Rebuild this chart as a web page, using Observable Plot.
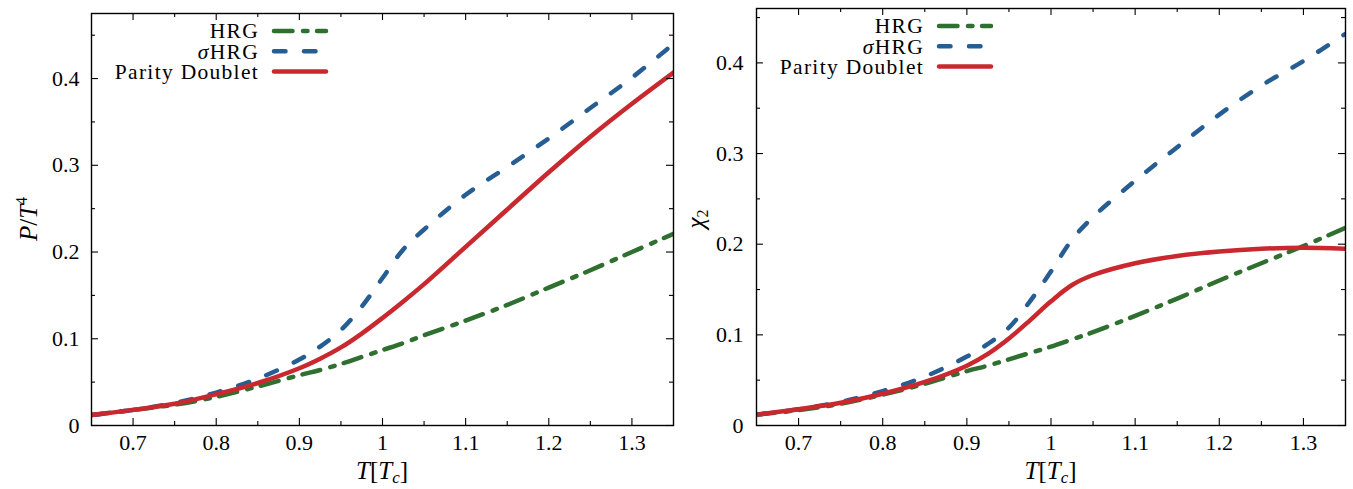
<!DOCTYPE html>
<html>
<head>
<meta charset="utf-8">
<script src="https://cdn.jsdelivr.net/npm/d3@7"></script>
<script src="https://cdn.jsdelivr.net/npm/@observablehq/plot@0.6"></script>
<style>
  html, body { margin: 0; padding: 0; background: #fff; }
  #wrap { display: flex; width: 1353px; height: 489px; overflow: hidden; }
  #wrap svg { display: block; }
</style>
</head>
<body>
<div id="wrap"></div>
<script>
// ---- data ----
const T = [0.65, 0.7, 0.75, 0.8, 0.85, 0.9, 0.925, 0.95, 0.975, 1.0, 1.025, 1.05, 1.1, 1.15, 1.2, 1.25, 1.3, 1.35];

// Left panel: P/T^4
const pressureHRG      = [0.012, 0.018, 0.024, 0.033, 0.045, 0.058, 0.064, 0.071, 0.079, 0.087, 0.095, 0.104, 0.121, 0.139, 0.159, 0.179, 0.200, 0.221];
const pressureSigmaHRG = [0.012, 0.018, 0.026, 0.038, 0.054, 0.076, 0.091, 0.110, 0.137, 0.170, 0.203, 0.226, 0.266, 0.298, 0.331, 0.366, 0.401, 0.440];
const pressureParity   = [0.012, 0.018, 0.025, 0.036, 0.049, 0.066, 0.077, 0.090, 0.106, 0.124, 0.143, 0.163, 0.206, 0.249, 0.292, 0.333, 0.371, 0.407];

// Right panel: chi_2
const chiHRG      = [0.012, 0.017, 0.024, 0.034, 0.046, 0.060, 0.066, 0.073, 0.080, 0.087, 0.095, 0.103, 0.121, 0.140, 0.160, 0.179, 0.198, 0.218];
const chiSigmaHRG = [0.012, 0.018, 0.026, 0.038, 0.054, 0.076, 0.090, 0.108, 0.137, 0.170, 0.205, 0.230, 0.270, 0.307, 0.343, 0.375, 0.402, 0.432];
const chiParity   = [0.012, 0.018, 0.025, 0.035, 0.048, 0.066, 0.079, 0.096, 0.116, 0.137, 0.155, 0.166, 0.179, 0.187, 0.192, 0.195, 0.196, 0.195];

const seriesNames = ["HRG", "σHRG", "Parity Doublet"];
const xMajor = [0.7, 0.8, 0.9, 1.0, 1.1, 1.2, 1.3];
const xMinor = [0.75, 0.85, 0.95, 1.05, 1.15, 1.25];
const yMajor = [0, 0.1, 0.2, 0.3, 0.4];
const yMinor = [0.05, 0.15, 0.25, 0.35, 0.45];

// ---- styles ----
const styles = [
  {stroke: "#2f6f2f", strokeDasharray: "18.5,10.5,4.5,9.5"},
  {stroke: "#265d92", strokeDasharray: "11.5,18.5"},
  {stroke: "#c9282e", strokeDasharray: null}
];
const LW = 4.5;
const FONT = "Liberation Serif, DejaVu Serif, serif";
const fmt = d => String(+d.toFixed(2));

function panel({values, yDomain, width, marginLeft, marginRight, marginTop, yLabel, yLabelX, yTickPadding}) {
  const height = 489, marginBottom = 64;
  const innerW = width - marginLeft - marginRight;
  const innerH = height - marginTop - marginBottom;
  const major = 7, minor = 4;
  const data = values.map((vals, s) => T.map((t, i) => ({T: t, v: vals[i], s})));

  const plot = Plot.plot({
    width, height, marginLeft, marginRight, marginTop, marginBottom,
    x: {domain: [0.65, 1.35], axis: null},
    y: {domain: yDomain, axis: null},
    style: {fontFamily: FONT, fontSize: "22px", color: "black", background: "white"},
    marks: [
      ...data.map((d, s) => Plot.line(d, {
        x: "T", y: "v", curve: "catmull-rom", clip: true,
        stroke: styles[s].stroke, strokeWidth: LW, strokeLinecap: "round", strokeLinejoin: "round",
        strokeDasharray: styles[s].strokeDasharray
      })),
      Plot.ruleX(xMajor, {x: d => d, insetTop: innerH - major, stroke: "black", strokeWidth: 1.1}),
      Plot.ruleX(xMajor, {x: d => d, insetBottom: innerH - major, stroke: "black", strokeWidth: 1.1}),
      Plot.ruleX(xMinor, {x: d => d, insetTop: innerH - minor, stroke: "black", strokeWidth: 1.1}),
      Plot.ruleX(xMinor, {x: d => d, insetBottom: innerH - minor, stroke: "black", strokeWidth: 1.1}),
      Plot.ruleY(yMajor, {y: d => d, insetRight: innerW - major, stroke: "black", strokeWidth: 1.1}),
      Plot.ruleY(yMajor, {y: d => d, insetLeft: innerW - major, stroke: "black", strokeWidth: 1.1}),
      Plot.ruleY(yMinor.filter(v => v < yDomain[1]), {y: d => d, insetRight: innerW - minor, stroke: "black", strokeWidth: 1.1}),
      Plot.ruleY(yMinor.filter(v => v < yDomain[1]), {y: d => d, insetLeft: innerW - minor, stroke: "black", strokeWidth: 1.1}),
      Plot.axisX({ticks: xMajor, tickFormat: fmt, tickSize: 0, tickPadding: 9, label: null, fontSize: 22}),
      Plot.axisY({ticks: yMajor, tickFormat: fmt, tickSize: 0, tickPadding: yTickPadding, label: null, fontSize: 22}),
      Plot.frame({stroke: "black", strokeWidth: 1.4})
    ]
  });

  const svg = d3.select(plot);
  const x = plot.scale("x");

  // x axis label: T[T_c]
  const xl = svg.append("text")
    .attr("x", x.apply(1.0)).attr("y", 479)
    .attr("text-anchor", "middle")
    .attr("font-family", FONT).attr("font-size", 25).attr("fill", "black");
  xl.append("tspan").attr("font-style", "italic").text("T");
  xl.append("tspan").text("[");
  xl.append("tspan").attr("font-style", "italic").text("T");
  xl.append("tspan").attr("font-style", "italic").attr("font-size", 17).attr("dy", 4).text("c");
  xl.append("tspan").attr("dy", -4).text("]");

  // y axis label (rotated)
  const yl = svg.append("text")
    .attr("transform", `translate(${yLabelX},219) rotate(-90)`)
    .attr("text-anchor", "middle")
    .attr("font-family", FONT).attr("font-size", 25).attr("fill", "black");
  yLabel(yl);

  // legend (top-left of the frame)
  const lg = svg.append("g");
  seriesNames.forEach((name, s) => {
    const cy = marginTop + 18 + 20.3 * s;
    const t = lg.append("text")
      .attr("x", marginLeft + 168).attr("y", cy).attr("dy", "0.34em")
      .attr("text-anchor", "end")
      .attr("font-family", FONT).attr("font-size", 21.5).attr("letter-spacing", 1.3).attr("fill", "black");
    if (name === "σHRG") {
      t.append("tspan").attr("font-style", "italic").text("σ");
      t.append("tspan").text("HRG");
    } else {
      t.text(name);
    }
    lg.append("line")
      .attr("x1", marginLeft + 183).attr("x2", marginLeft + 235)
      .attr("y1", cy).attr("y2", cy)
      .attr("stroke", styles[s].stroke).attr("stroke-width", LW)
      .attr("stroke-linecap", "round")
      .attr("stroke-dasharray", styles[s].strokeDasharray);
  });

  return plot;
}

const wrap = document.getElementById("wrap");

wrap.appendChild(panel({
  values: [pressureHRG, pressureSigmaHRG, pressureParity],
  yDomain: [0, 0.475],
  width: 680, marginLeft: 91, marginRight: 7, marginTop: 13,
  yTickPadding: 12, yLabelX: 37,
  yLabel: (t) => {
    t.append("tspan").attr("font-style", "italic").text("P");
    t.append("tspan").text("/");
    t.append("tspan").attr("font-style", "italic").text("T");
    t.append("tspan").attr("font-size", 16).attr("dy", -10).text("4");
  }
}));

wrap.appendChild(panel({
  values: [chiHRG, chiSigmaHRG, chiParity],
  yDomain: [0, 0.46],
  width: 673, marginLeft: 76, marginRight: 8, marginTop: 8,
  yTickPadding: 13, yLabelX: 24,
  yLabel: (t) => {
    t.append("tspan").attr("font-style", "italic").text("χ");
    t.append("tspan").attr("font-size", 16).attr("dy", 4).text("2");
  }
}));
</script>
</body>
</html>
